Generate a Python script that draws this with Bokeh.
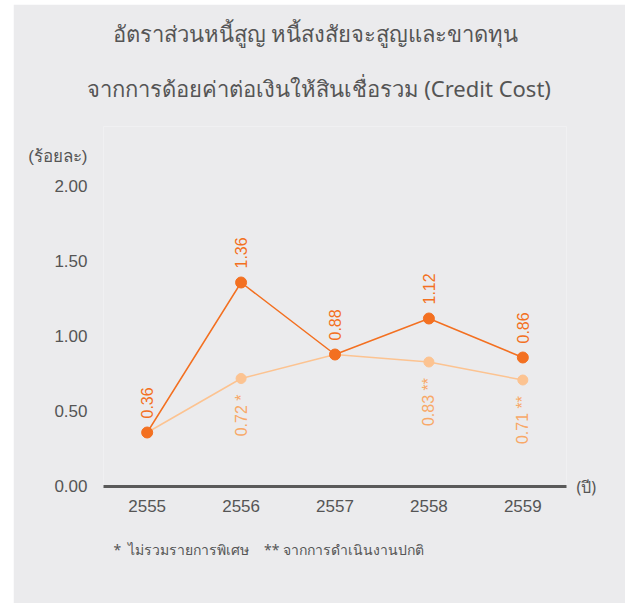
from bokeh.plotting import figure
from bokeh.models import Range1d, FixedTicker, ColumnDataSource, Title, LinearAxis
from bokeh.core.properties import value
from bokeh.embed import file_html
from bokeh.resources import INLINE

years = ["2555", "2556", "2557", "2558", "2559"]
credit_cost = [0.36, 1.36, 0.88, 1.12, 0.86]
credit_cost_labels = ["0.36", "1.36", "0.88", "1.12", "0.86"]
adjusted_cost = [0.36, 0.72, 0.88, 0.83, 0.71]
adjusted_labels = ["", "0.72 *", "", "0.83 **", "0.71 **"]
y_ticks = [0.0, 0.5, 1.0, 1.5, 2.0]

title_1 = "อัตราส่วนหนี้สูญ หนี้สงสัยจะสูญและขาดทุน"
title_2 = "จากการด้อยค่าต่อเงินให้สินเชื่อรวม (Credit Cost)"
y_unit = "(ร้อยละ)"
y_unit_pos = 2.2
x_unit = "(ปี)"
footnote = "*\u00a0\u00a0ไม่รวมรายการพิเศษ\u00a0\u00a0\u00a0\u00a0** จากการดำเนินงานปกติ"

BG = "#ebebed"
DARK = "#f37021"
LIGHT = "#fcc391"
LIGHT_TXT = "#f8a867"
GREY = "#555555"
NUM_FONT = "Liberation Sans"
TH_FONT = "Noto Sans"

xs = list(range(len(years)))

p = figure(width=612, height=599, output_backend="svg", toolbar_location=None,
           x_range=Range1d(-0.465, 4.465), y_range=Range1d(0, 2.4),
           min_border_left=90, min_border_right=59, min_border_top=122,
           min_border_bottom=117, margin=(4, 0, 0, 13))
p.background_fill_color = BG
p.border_fill_color = BG
p.outline_line_color = None
p.xgrid.grid_line_color = None
p.ygrid.grid_line_color = None

# x axis
p.xaxis.ticker = FixedTicker(ticks=xs)
p.xaxis.major_label_overrides = {i: y for i, y in enumerate(years)}
p.xaxis.axis_line_color = "#5a5a5a"
p.xaxis.axis_line_width = 3
p.xaxis.major_tick_line_color = None
p.xaxis.minor_tick_line_color = None
p.xaxis.major_label_standoff = 7
p.xaxis.major_label_text_font = NUM_FONT
p.xaxis.major_label_text_font_size = "17px"
p.xaxis.major_label_text_color = GREY

# y axis (unit shown as the top label)
yl = {t: f"{t:.2f}" for t in y_ticks}
yl[y_unit_pos] = y_unit
p.yaxis.ticker = FixedTicker(ticks=y_ticks + [y_unit_pos])
p.yaxis.major_label_overrides = yl
p.yaxis.axis_line_color = None
p.yaxis.major_tick_line_color = None
p.yaxis.minor_tick_line_color = None
p.yaxis.major_label_standoff = 10
p.yaxis.major_label_text_font = NUM_FONT
p.yaxis.major_label_text_font_size = "17px"
p.yaxis.major_label_text_color = GREY

# right axis carrying the x unit at the baseline
ra = LinearAxis(ticker=FixedTicker(ticks=[0]), major_label_overrides={0: x_unit},
                axis_line_color=None, major_tick_line_color=None,
                minor_tick_line_color=None, major_label_standoff=4,
                major_label_text_font=TH_FONT, major_label_text_font_size="16px",
                major_label_text_color=GREY)
p.add_layout(ra, "right")

src_l = ColumnDataSource(dict(x=xs, y=adjusted_cost, t=adjusted_labels))
src_d = ColumnDataSource(dict(x=xs, y=credit_cost, t=credit_cost_labels))

p.line("x", "y", source=src_l, line_color=LIGHT, line_width=1.5)
p.scatter("x", "y", source=src_l, size=10, fill_color=LIGHT, line_color=LIGHT)
p.line("x", "y", source=src_d, line_color=DARK, line_width=1.5)
p.scatter("x", "y", source=src_d, size=11, fill_color=DARK, line_color=DARK)

p.text("x", "y", text="t", source=src_d, angle=1.5708, y_offset=-14,
       text_align="left", text_baseline="middle", text_color=DARK,
       text_font=value(NUM_FONT), text_font_size="16px")
p.text("x", "y", text="t", source=src_l, angle=1.5708, y_offset=16,
       text_align="right", text_baseline="middle", text_color=LIGHT_TXT,
       text_font=value(NUM_FONT), text_font_size="16px")

# titles
p.add_layout(Title(text=title_2, align="left", offset=-17, standoff=47,
                   text_font=TH_FONT, text_font_size="22px",
                   text_font_style="normal", text_color=GREY), "above")
p.add_layout(Title(text=title_1, align="left", offset=9, standoff=0,
                   text_line_height=0.7,
                   text_font=TH_FONT, text_font_size="22px",
                   text_font_style="normal", text_color=GREY), "above")
p.add_layout(Title(text=footnote, align="left", offset=10, standoff=46,
                   text_font=TH_FONT, text_font_size="14px",
                   text_font_style="normal", text_color=GREY), "below")

open("out.html", "w").write(file_html(p, INLINE))
